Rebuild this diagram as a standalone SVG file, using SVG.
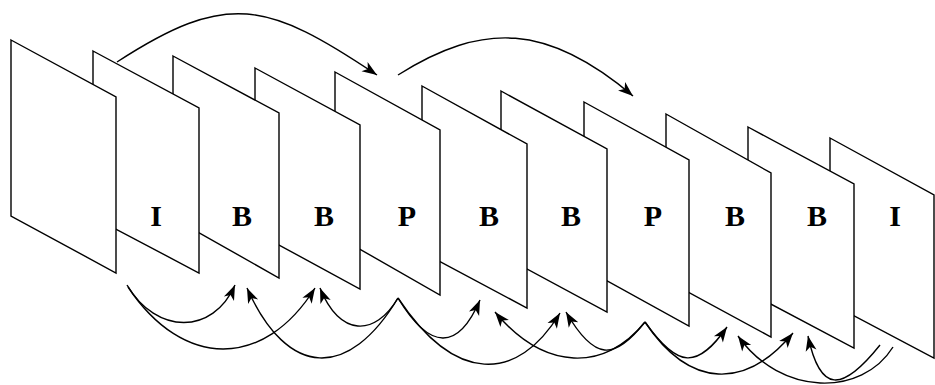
<svg xmlns="http://www.w3.org/2000/svg" width="935" height="385" viewBox="0 0 935 385">
<style>
.frame{fill:#fff;stroke:#000;stroke-width:1.4;stroke-linejoin:miter}
.lbl{font-family:"Liberation Serif","Times New Roman",serif;font-weight:bold;font-size:30px;fill:#000;text-anchor:middle}
.arc{fill:none;stroke:#000;stroke-width:1.4;marker-end:url(#ah)}
</style>
<defs>
<marker id="ah" markerUnits="userSpaceOnUse" orient="auto" markerWidth="20" markerHeight="14" refX="0" refY="0" viewBox="-16 -7 17 14" overflow="visible">
<path d="M0,0 L-15,-5.5 L-11,0 L-15,5.5 Z" fill="#000"/>
</marker>
</defs>
<g id="frames">
<g id="f11"><polygon class="frame" points="830,138 934,195 934,358 830,303"/><text class="lbl" x="895" y="226">I</text></g>
<g id="f10"><polygon class="frame" points="748,127 854,184 854,348 748,292"/><text class="lbl" x="817" y="226">B</text></g>
<g id="f9"><polygon class="frame" points="666,114 771,173 771,337 666,280"/><text class="lbl" x="735" y="226">B</text></g>
<g id="f8"><polygon class="frame" points="584,102 689,160 689,326 584,268"/><text class="lbl" x="653" y="226">P</text></g>
<g id="f7"><polygon class="frame" points="501,91 607,149 607,312 501,255"/><text class="lbl" x="571" y="226">B</text></g>
<g id="f6"><polygon class="frame" points="422,86 527,144 527,308 422,252"/><text class="lbl" x="489" y="226">B</text></g>
<g id="f5"><polygon class="frame" points="335,72 440,130 440,295 335,235"/><text class="lbl" x="407" y="226">P</text></g>
<g id="f4"><polygon class="frame" points="255,68 360,125 360,289 255,232"/><text class="lbl" x="324" y="226">B</text></g>
<g id="f3"><polygon class="frame" points="173,56 279,113 279,278 173,218"/><text class="lbl" x="242" y="226">B</text></g>
<g id="f2"><polygon class="frame" points="93,51 199,108 199,273 93,217"/><text class="lbl" x="156" y="226">I</text></g>
<g id="f1"><polygon class="frame" points="11,40 116,97 116,273 11,216"/></g>
</g>
<g id="connectors">
<path class="arc" d="M117,62 C227,-9.5 267,1.3 377,75"/>
<path class="arc" d="M398,75 C483,21.4 548,23.75 633,96"/>
<path class="arc" d="M127,285 C156.5,335 213,335 235,285"/>
<path class="arc" d="M128,287 C183,369.5 264,369.5 315,288"/>
<path class="arc" d="M398,298 C349,379.5 288,379.5 247,288"/>
<path class="arc" d="M398,298 C375,337 339.6,337 320,288"/>
<path class="arc" d="M398,298 C430,351 458,351 480,300"/>
<path class="arc" d="M398,298 C455,383.7 517,383.7 560,313"/>
<path class="arc" d="M645,322 C605,371.7 545,371.7 495,312"/>
<path class="arc" d="M645,322 C614,361 594.4,361 566,312"/>
<path class="arc" d="M645,322 C678,369 697.6,369 727,327"/>
<path class="arc" d="M645,322 C690,389.5 746,389.5 793,333"/>
<path class="arc" d="M893,347 C862,396.8 781,396.8 738,336"/>
<path class="arc" d="M880,345 C841.6,393 820,393 808,336"/>
</g>
</svg>
